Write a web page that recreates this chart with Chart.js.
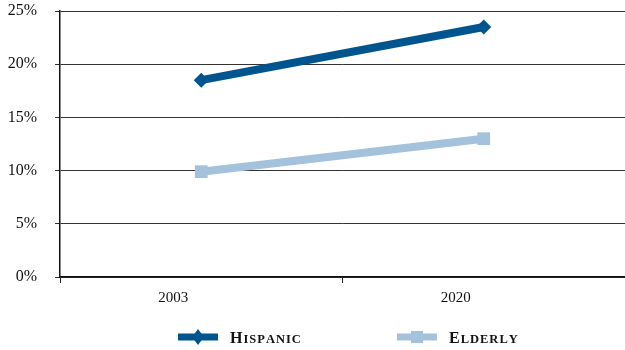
<!DOCTYPE html>
<html>
<head>
<meta charset="utf-8">
<script src="https://cdn.jsdelivr.net/npm/chart.js@4/dist/chart.umd.min.js"></script>
<style>
  html, body { margin: 0; padding: 0; background: #fff; }
  #wrap { width: 625px; height: 350px; }
</style>
</head>
<body>
<div id="wrap"><canvas id="chart" width="625" height="350"></canvas></div>
<script>
// Share of population, percent
const years = ['2003', '2020'];
const hispanic = [18.5, 23.5];
const elderly = [9.9, 13.0];
const yTicks = [0, 5, 10, 15, 20, 25];

const darkBlue = '#00558f';
const lightBlue = '#a4c2db';
const serif = "'Liberation Serif', 'DejaVu Serif', serif";

// Legend drawn under the axis: thick line swatch with marker, then small-caps name
const legendPlugin = {
    id: 'capsLegend',
    afterDraw(chart) {
        const ctx = chart.ctx;
        const y = 337;
        const items = [
            { x: 178, ds: chart.data.datasets[0], shape: 'diamond' },
            { x: 397, ds: chart.data.datasets[1], shape: 'square' }
        ];
        ctx.save();
        items.forEach(item => {
            const color = item.ds.borderColor;
            ctx.fillStyle = color;
            ctx.fillRect(item.x, y - 3.5, 40, 7);
            if (item.shape === 'diamond') {
                ctx.beginPath();
                ctx.moveTo(item.x + 20, y - 8);
                ctx.lineTo(item.x + 26, y);
                ctx.lineTo(item.x + 20, y + 8);
                ctx.lineTo(item.x + 14, y);
                ctx.closePath();
                ctx.fill();
            } else {
                ctx.fillRect(item.x + 14, y - 6, 12, 12);
            }

            // small caps: full-size first letter, smaller capitals after it
            const name = item.ds.label;
            let tx = item.x + 52;
            ctx.fillStyle = '#111';
            ctx.textBaseline = 'alphabetic';
            ctx.font = `bold 16px ${serif}`;
            ctx.fillText(name[0], tx, y + 6);
            tx += ctx.measureText(name[0]).width + 1;
            ctx.font = `bold 12.5px ${serif}`;
            for (const ch of name.slice(1).toUpperCase()) {
                ctx.fillText(ch, tx, y + 6);
                tx += ctx.measureText(ch).width + 1;
            }
        });
        ctx.restore();
    }
};

new Chart(document.getElementById('chart'), {
    type: 'line',
    data: {
        labels: years,
        datasets: [
            {
                label: 'Hispanic',
                data: hispanic,
                borderColor: darkBlue,
                backgroundColor: darkBlue,
                borderWidth: 8,
                pointStyle: 'rectRot',
                pointRadius: 7.5,
                pointBorderWidth: 0,
                tension: 0
            },
            {
                label: 'Elderly',
                data: elderly,
                borderColor: lightBlue,
                backgroundColor: lightBlue,
                borderWidth: 8,
                pointStyle: 'rect',
                pointRadius: 9,
                pointBorderWidth: 0,
                tension: 0
            }
        ]
    },
    plugins: [legendPlugin],
    options: {
        responsive: false,
        animation: false,
        layout: {
            autoPadding: false,
            padding: { top: 11, right: 0, left: 0, bottom: 33 }
        },
        plugins: {
            tooltip: { enabled: false },
            legend: { display: false }
        },
        scales: {
            x: {
                offset: true,
                grid: {
                    offset: true,
                    drawOnChartArea: false,
                    drawTicks: true,
                    tickLength: 6,
                    color: '#222'
                },
                border: { color: '#111', width: 1.5 },
                ticks: {
                    color: '#111',
                    padding: 6,
                    labelOffset: -28,
                    font: { family: serif, size: 15 }
                },
                afterFit: (scale) => {
                    scale.height = 40;
                    scale.paddingLeft = 0;
                    scale.paddingRight = 0;
                }
            },
            y: {
                min: 0,
                max: 25,
                afterBuildTicks: (scale) => {
                    scale.ticks = yTicks.map(v => ({ value: v }));
                },
                grid: {
                    color: '#333',
                    lineWidth: 1,
                    tickLength: 5
                },
                border: { color: '#111', width: 1.5 },
                ticks: {
                    color: '#111',
                    padding: 18,
                    font: { family: serif, size: 16 },
                    callback: (v) => v + '%'
                },
                afterFit: (scale) => {
                    scale.width = 60;
                    scale.paddingTop = 0;
                    scale.paddingBottom = 0;
                }
            }
        }
    }
});
</script>
</body>
</html>
